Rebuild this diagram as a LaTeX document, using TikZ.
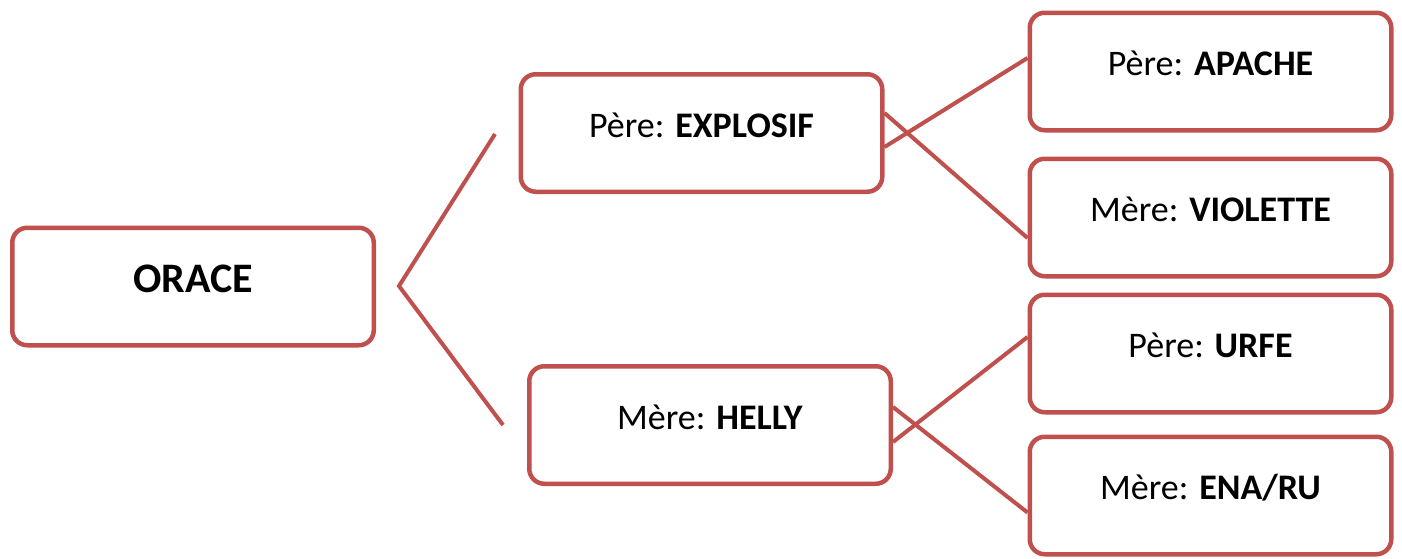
\documentclass[tikz,border=0pt]{standalone}
\usepackage{fontspec}
\setmainfont{Carlito}
\usepackage{tikz}
\usetikzlibrary{positioning}
\definecolor{boxred}{HTML}{C0504D}

\begin{document}
\begin{tikzpicture}[x=1pt,y=-1pt,
    box/.style={draw=boxred, line width=4.5pt, rounded corners=15pt, fill=white,
      minimum width=361.5pt, minimum height=117.5pt, inner sep=0pt,
      font=\fontsize{36}{42}\selectfont, text height=25pt, text depth=17pt},
    rootbox/.style={box, font=\fontsize{42}{48}\selectfont\bfseries,
      text height=30pt, text depth=19pt},
    link/.style={draw=boxred, line width=4pt}]
  \useasboundingbox (0,0) rectangle (1402,558);
  \node[rootbox] (orace) at (193,286.5) {ORACE};
  \node[box] (explosif) at (701.5,133) {Père: \textbf{EXPLOSIF}};
  \node[box] (helly) at (710,425) {Mère: \textbf{HELLY}};
  \node[box] (apache) at (1210.5,71.5) {Père: \textbf{APACHE}};
  \node[box, below=24pt of apache] (violette) {Mère: \textbf{VIOLETTE}};
  \node[box, below=14pt of violette] (urfe) {Père: \textbf{URFE}};
  \node[box, below=20pt of urfe] (enaru) {Mère: \textbf{ENA/RU}};
  \coordinate (fork) at (399,286);
  \coordinate (forkup) at (495,134);
  \coordinate (forkdown) at (503,425);
  \draw[link] (forkup) -- (fork) -- (forkdown);
  \draw[link] ([yshift=20pt]explosif.east) -- ([yshift=-20.5pt]violette.west);
  \draw[link] ([yshift=-14pt]explosif.east) -- ([yshift=13.5pt]apache.west);
  \draw[link] ([yshift=18pt]helly.east) -- ([yshift=-17pt]enaru.west);
  \draw[link] ([yshift=-17pt]helly.east) -- ([yshift=16.5pt]urfe.west);
\end{tikzpicture}
\end{document}
